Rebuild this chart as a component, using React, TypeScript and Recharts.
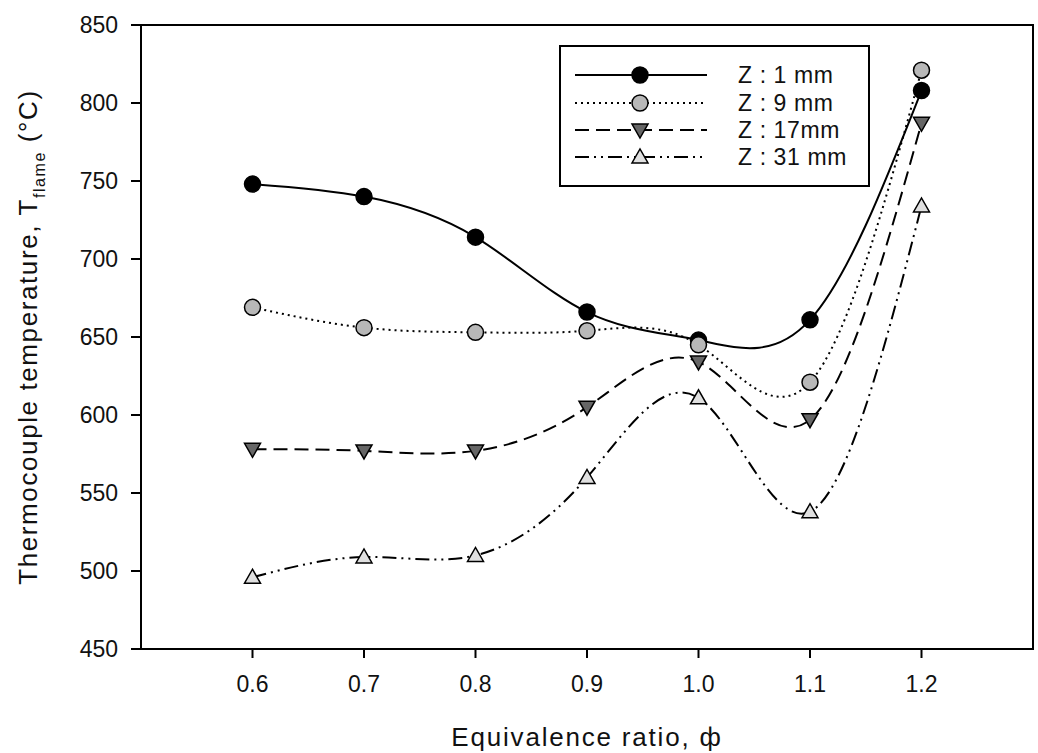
import React from "react";
import {
  LineChart,
  Line,
  XAxis,
  YAxis,
  Label,
  Legend,
  ReferenceArea,
} from "recharts";

// equivalence ratio (x) and flame temperature per probe height (°C)
const phi = [0.6, 0.7, 0.8, 0.9, 1.0, 1.1, 1.2];
const z1 = [748, 740, 714, 666, 648, 661, 808];
const z9 = [669, 656, 653, 654, 645, 621, 821];
const z17 = [578, 577, 577, 605, 634, 597, 787];
const z31 = [496, 509, 510, 560, 611, 538, 734];

const yTicks = [450, 500, 550, 600, 650, 700, 750, 800, 850];

const FONT = '"Liberation Sans", Arial, sans-serif';

type MarkerKind = "circle" | "down" | "up";

const series = [
  { key: "z1", label: "Z : 1 mm", values: z1, dash: undefined, marker: "circle" as MarkerKind, fill: "#000" },
  { key: "z9", label: "Z : 9 mm", values: z9, dash: "2 4", marker: "circle" as MarkerKind, fill: "#b8b8b8" },
  { key: "z17", label: "Z : 17mm", values: z17, dash: "14 7", marker: "down" as MarkerKind, fill: "#666" },
  { key: "z31", label: "Z : 31 mm", values: z31, dash: "14 5 2 5 2 5", marker: "up" as MarkerKind, fill: "#e0e0e0" },
];

const data = phi.map((p, i) => {
  const row: Record<string, number> = { phi: p };
  series.forEach((s) => {
    row[s.key] = s.values[i];
  });
  return row;
});

function Marker({ kind, cx, cy, fill }: { kind: MarkerKind; cx: number; cy: number; fill: string }) {
  if (kind === "circle") {
    return <circle cx={cx} cy={cy} r={8} fill={fill} stroke="#000" strokeWidth={1.5} />;
  }
  const pts =
    kind === "down"
      ? `${cx - 8},${cy - 6} ${cx + 8},${cy - 6} ${cx},${cy + 8}`
      : `${cx - 8},${cy + 6} ${cx + 8},${cy + 6} ${cx},${cy - 8}`;
  return <polygon points={pts} fill={fill} stroke="#000" strokeWidth={1.5} strokeLinejoin="miter" />;
}

function LegendBox() {
  const rowY = [30, 58, 85, 112];
  return (
    <svg width={311} height={142} style={{ display: "block" }}>
      <rect x={1} y={1} width={309} height={140} fill="#fff" stroke="#000" strokeWidth={2} />
      {series.map((s, i) => (
        <g key={s.key}>
          <line x1={16} x2={148} y1={rowY[i]} y2={rowY[i]} stroke="#000" strokeWidth={2} strokeDasharray={s.dash} />
          <Marker kind={s.marker} cx={81} cy={rowY[i]} fill={s.fill} />
          <text x={179} y={rowY[i] + 8} fontFamily={FONT} fontSize={23} letterSpacing={0.6} fill="#111">
            {s.label}
          </text>
        </g>
      ))}
    </svg>
  );
}

function YTitle(props: any) {
  const vb = props.viewBox || {};
  const cx = 37;
  const cy = vb.y + vb.height / 2;
  return (
    <text
      x={cx}
      y={cy}
      transform={`rotate(-90 ${cx} ${cy})`}
      textAnchor="middle"
      fontFamily={FONT}
      fontSize={26}
      letterSpacing={1.6}
      fill="#111"
    >
      <tspan>Thermocouple temperature, T</tspan>
      <tspan fontSize={16} dy={8}>flame</tspan>
      <tspan dy={-8}> (°C)</tspan>
    </text>
  );
}

function XTitle(props: any) {
  const vb = props.viewBox || {};
  return (
    <text
      x={vb.x + vb.width / 2}
      y={746}
      textAnchor="middle"
      fontFamily={FONT}
      fontSize={26}
      letterSpacing={1.8}
      fill="#111"
    >
      Equivalence ratio, ф
    </text>
  );
}

export default function App() {
  return (
    <div style={{ position: "absolute", left: 0, top: 0, width: 1038, height: 753, background: "#fff" }}>
      <LineChart width={1038} height={753} data={data} margin={{ top: 25, right: 5, bottom: 0, left: 71 }}>
        <ReferenceArea x1={0.5} x2={1.3} y1={450} y2={850} fill="none" stroke="#000" strokeWidth={2} />
        <XAxis
          dataKey="phi"
          type="number"
          domain={[0.5, 1.3]}
          ticks={phi}
          tickFormatter={(v: number) => v.toFixed(1)}
          height={104}
          tickSize={9}
          tickMargin={18}
          axisLine={{ stroke: "#000", strokeWidth: 2 }}
          tickLine={{ stroke: "#000", strokeWidth: 2 }}
          tick={{ fontFamily: FONT, fontSize: 23, fill: "#111" }}
          allowDataOverflow
        >
          <Label content={<XTitle />} />
        </XAxis>
        <YAxis
          type="number"
          domain={[450, 850]}
          ticks={yTicks}
          width={70}
          tickSize={10}
          tickMargin={13}
          axisLine={{ stroke: "#000", strokeWidth: 2 }}
          tickLine={{ stroke: "#000", strokeWidth: 2 }}
          tick={{ fontFamily: FONT, fontSize: 23, fill: "#111" }}
          allowDataOverflow
        >
          <Label content={<YTitle />} />
        </YAxis>
        <Legend
          layout="vertical"
          align="center"
          verticalAlign="middle"
          content={() => <LegendBox />}
          wrapperStyle={{ position: "absolute", left: 559, top: 45, width: 311, height: 142 }}
        />
        {series.map((s) => (
          <Line
            key={s.key}
            dataKey={s.key}
            type="natural"
            stroke="#000"
            strokeWidth={2}
            strokeDasharray={s.dash}
            isAnimationActive={false}
            dot={(p: any) => (
              <Marker key={`${s.key}-${p.index}`} kind={s.marker} cx={p.cx} cy={p.cy} fill={s.fill} />
            )}
            activeDot={false}
          />
        ))}
      </LineChart>
    </div>
  );
}
